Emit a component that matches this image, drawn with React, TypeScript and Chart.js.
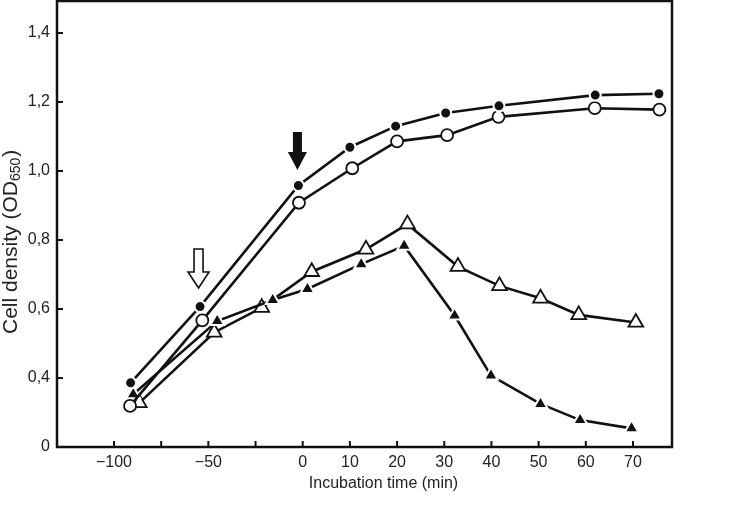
import React, { useEffect, useRef } from 'react';
import { Chart, registerables } from 'chart.js';

Chart.register(...registerables);

// Broken x axis: -100..0 in 25-min steps, 0..70 in 10-min steps (one tick each)
const xTickLabels = ['−100', '', '−50', '', '0', '10', '20', '30', '40', '50', '60', '70'];
// Broken y axis: bottom tick (real 0.2 position) is labelled "0"
const yTickValues = [0.2, 0.4, 0.6, 0.8, 1.0, 1.2, 1.4];
const yTickLabels = ['0', '0,4', '0,6', '0,8', '1,0', '1,2', '1,4'];

// Series: time (min) and cell density (OD650)
const filledCircleT = [-91.2, -54.4, -2.3, 10.0, 19.7, 30.3, 41.6, 62.0, 75.5];
const filledCircleV = [0.386, 0.607, 0.958, 1.069, 1.13, 1.168, 1.189, 1.22, 1.224];

const openCircleT = [-91.5, -53.2, -2.0, 10.5, 20.0, 30.6, 41.5, 61.9, 75.6];
const openCircleV = [0.319, 0.567, 0.908, 1.008, 1.086, 1.104, 1.157, 1.182, 1.178];

const filledTriT = [-89.8, -45.3, -15.9, 1.0, 12.4, 21.5, 32.2, 39.9, 50.4, 58.8, 69.7];
const filledTriV = [0.353, 0.565, 0.626, 0.658, 0.73, 0.783, 0.581, 0.407, 0.325, 0.278, 0.254];

const openTriT = [-86.6, -46.9, -21.7, 1.9, 13.4, 22.2, 32.9, 41.7, 50.4, 58.5, 70.6];
const openTriV = [0.328, 0.532, 0.604, 0.708, 0.773, 0.846, 0.723, 0.667, 0.631, 0.583, 0.561];

// Arrow markers: time, tip value
const arrowOpenT = -55.2;
const arrowOpenV = 0.661;
const arrowFilledT = -2.8;
const arrowFilledV = 1.003;

const xTitle = 'Incubation time (min)';
const yTitleMain = 'Cell density (OD';
const yTitleSub = '650';
const yTitleEnd = ')';

const FONT = "'Liberation Sans', Arial, Helvetica, sans-serif";
const INK = '#111';
const TEXT = '#222';

// axis mapping for the broken time axis
const toAxis = (t: number) => (t <= 0 ? (t + 100) / 25 : 4 + t / 10);

const pts = (ts: number[], vs: number[]) => ts.map((t, i) => ({ x: toAxis(t), y: vs[i] }));

const decorPlugin = {
  id: 'decor',
  afterDraw(chart: any) {
    const { ctx, chartArea } = chart;
    const xs = chart.scales.x;
    const ys = chart.scales.y;
    const { left, right, top, bottom } = chartArea;
    ctx.save();
    // frame
    ctx.strokeStyle = INK;
    ctx.lineWidth = 2.5;
    ctx.strokeRect(left, top, right - left, bottom - top);
    // inward ticks
    ctx.lineWidth = 2;
    xTickLabels.forEach((_, i) => {
      const px = xs.getPixelForValue(i);
      ctx.beginPath();
      ctx.moveTo(px, bottom);
      ctx.lineTo(px, bottom - 6);
      ctx.stroke();
    });
    yTickValues.slice(1).forEach((v) => {
      const py = ys.getPixelForValue(v);
      ctx.beginPath();
      ctx.moveTo(left, py);
      ctx.lineTo(left + 6, py);
      ctx.stroke();
    });

    // arrows
    const drawArrow = (t: number, v: number, filled: boolean, shaftW: number, total: number, headL: number, headW: number) => {
      const x = xs.getPixelForValue(toAxis(t));
      const y = ys.getPixelForValue(v);
      ctx.beginPath();
      ctx.moveTo(x - shaftW / 2, y - total);
      ctx.lineTo(x + shaftW / 2, y - total);
      ctx.lineTo(x + shaftW / 2, y - headL);
      ctx.lineTo(x + headW / 2, y - headL);
      ctx.lineTo(x, y);
      ctx.lineTo(x - headW / 2, y - headL);
      ctx.lineTo(x - shaftW / 2, y - headL);
      ctx.closePath();
      if (filled) {
        ctx.fillStyle = INK;
        ctx.fill();
      } else {
        ctx.fillStyle = '#fff';
        ctx.fill();
        ctx.lineWidth = 1.6;
        ctx.strokeStyle = INK;
        ctx.stroke();
      }
    };
    drawArrow(arrowOpenT, arrowOpenV, false, 9, 39, 16, 21);
    drawArrow(arrowFilledT, arrowFilledV, true, 9, 38, 18, 19);

    // x title
    ctx.fillStyle = TEXT;
    ctx.font = `16px ${FONT}`;
    ctx.textAlign = 'center';
    ctx.textBaseline = 'middle';
    ctx.fillText(xTitle, 383.5, 484);

    // y title (rotated, with subscript)
    ctx.translate(11, 334);
    ctx.rotate(-Math.PI / 2);
    ctx.textAlign = 'left';
    ctx.textBaseline = 'middle';
    ctx.font = `21px ${FONT}`;
    ctx.fillText(yTitleMain, 0, 0);
    let w = ctx.measureText(yTitleMain).width;
    ctx.font = `14px ${FONT}`;
    ctx.fillText(yTitleSub, w, 5);
    w += ctx.measureText(yTitleSub).width;
    ctx.font = `21px ${FONT}`;
    ctx.fillText(yTitleEnd, w + 1, 0);
    ctx.restore();
  },
};

export default function App() {
  const ref = useRef<HTMLCanvasElement | null>(null);

  useEffect(() => {
    document.body.style.margin = '0';
    const canvas = ref.current;
    if (!canvas) return;
    const lineBase = {
      borderColor: INK,
      borderWidth: 2.6,
      tension: 0,
      fill: false,
      clip: false as any,
    };
    const chart = new Chart(canvas, {
      type: 'line',
      data: {
        datasets: [
          {
            ...lineBase,
            label: 'filled circles',
            data: pts(filledCircleT, filledCircleV),
            pointStyle: 'circle',
            pointRadius: 5.5,
            pointBackgroundColor: INK,
            pointBorderColor: '#fff',
            pointBorderWidth: 2,
          },
          {
            ...lineBase,
            label: 'open circles',
            data: pts(openCircleT, openCircleV),
            pointStyle: 'circle',
            pointRadius: 6,
            pointBackgroundColor: '#fff',
            pointBorderColor: INK,
            pointBorderWidth: 1.8,
          },
          {
            ...lineBase,
            label: 'filled triangles',
            data: pts(filledTriT, filledTriV),
            pointStyle: 'triangle',
            pointRadius: 8,
            pointBackgroundColor: INK,
            pointBorderColor: '#fff',
            pointBorderWidth: 2,
          },
          {
            ...lineBase,
            label: 'open triangles',
            data: pts(openTriT, openTriV),
            pointStyle: 'triangle',
            pointRadius: 8.5,
            pointBackgroundColor: '#fff',
            pointBorderColor: INK,
            pointBorderWidth: 1.8,
          },
        ],
      },
      options: {
        responsive: false,
        animation: false,
        events: [],
        layout: { autoPadding: false, padding: { top: 1, right: 59, left: 0, bottom: 0 } },
        plugins: {
          legend: { display: false },
          tooltip: { enabled: false },
        },
        scales: {
          x: {
            type: 'linear',
            min: -1.208,
            max: 11.827,
            grid: { display: false, drawTicks: false, tickLength: 0 },
            border: { display: false },
            afterBuildTicks: (s: any) => {
              s.ticks = xTickLabels.map((_, i) => ({ value: i }));
            },
            afterFit: (s: any) => {
              s.height = 58;
              s.paddingLeft = 0;
              s.paddingRight = 0;
            },
            ticks: {
              autoSkip: false,
              maxRotation: 0,
              padding: 6,
              color: TEXT,
              font: { family: FONT, size: 16 },
              callback: (v: any) => xTickLabels[Math.round(Number(v))] ?? '',
            },
          },
          y: {
            type: 'linear',
            min: 0.2,
            max: 1.4928,
            grid: { display: false, drawTicks: false, tickLength: 0 },
            border: { display: false },
            afterBuildTicks: (s: any) => {
              s.ticks = yTickValues.map((v) => ({ value: v }));
            },
            afterFit: (s: any) => {
              s.width = 57;
              s.paddingTop = 0;
              s.paddingBottom = 0;
            },
            ticks: {
              autoSkip: false,
              padding: 7,
              color: TEXT,
              font: { family: FONT, size: 16 },
              callback: (_v: any, i: number) => yTickLabels[i] ?? '',
            },
          },
        },
      },
      plugins: [decorPlugin],
    });
    return () => chart.destroy();
  }, []);

  return (
    <div style={{ width: 731, height: 505, background: '#fff' }}>
      <canvas ref={ref} width={731} height={505} style={{ display: 'block' }} />
    </div>
  );
}
